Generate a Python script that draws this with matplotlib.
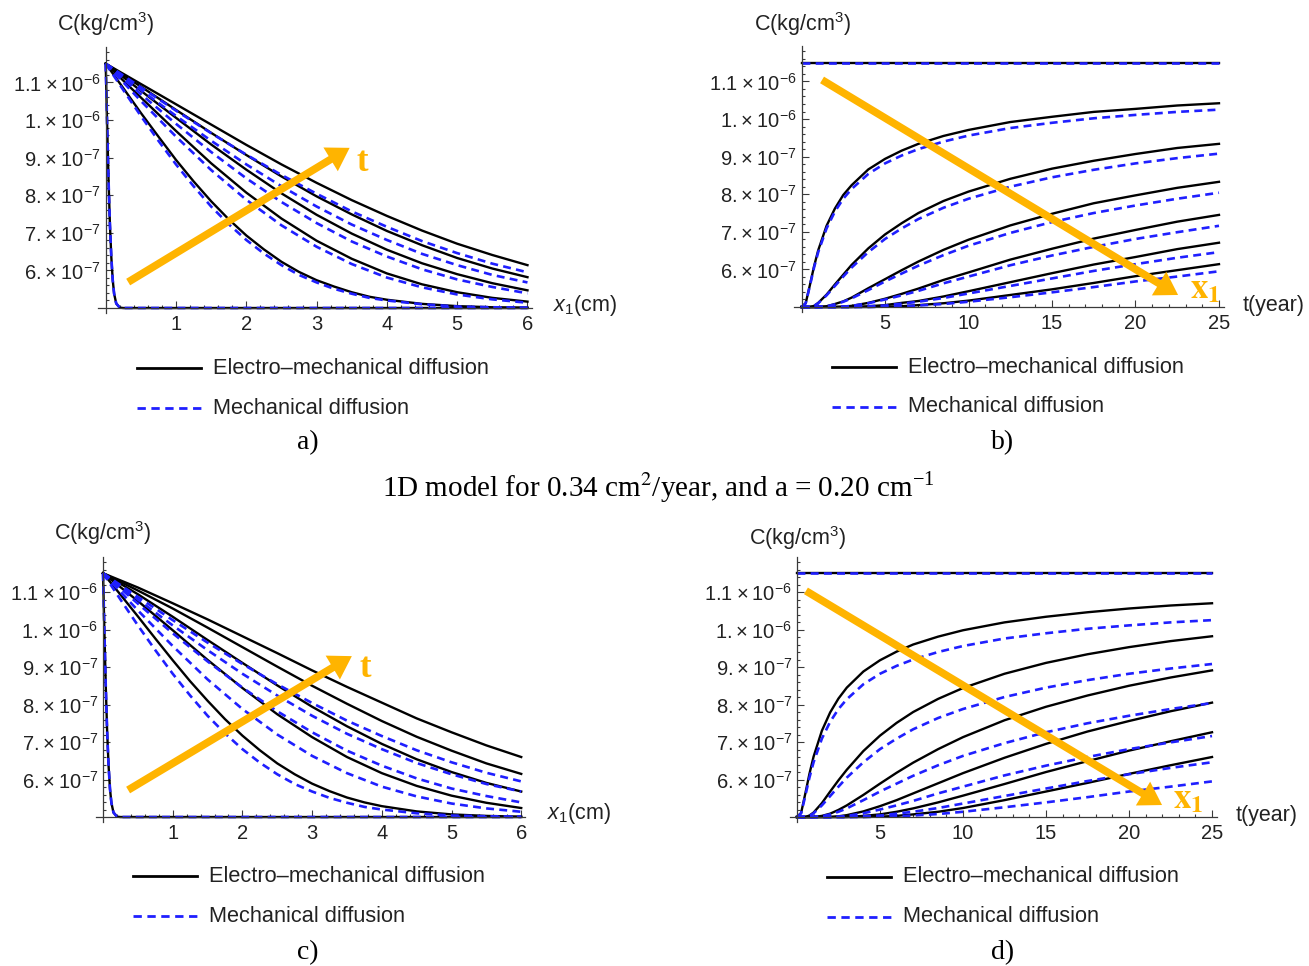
import matplotlib
matplotlib.use('Agg')
import matplotlib.pyplot as plt
from matplotlib.lines import Line2D

plt.rcParams['font.family'] = ['Liberation Sans', 'DejaVu Sans']
plt.rcParams['mathtext.fontset'] = 'custom'
plt.rcParams['mathtext.rm'] = 'Liberation Sans'
plt.rcParams['mathtext.it'] = 'Liberation Sans:italic'
plt.rcParams['mathtext.bf'] = 'Liberation Sans:bold'

# concentrations in units of 1e-7 kg/cm^3
xs = [0, 0.5, 1, 1.5, 2, 2.5, 3, 3.5, 4, 4.5, 5, 5.5, 6]
xsFine = [0, 0.25, 0.5, 0.75, 1, 1.25, 1.5, 1.75, 2, 2.25, 2.5, 2.75, 3, 3.25, 3.5, 3.75, 4,
          4.5, 5, 5.5, 6]
ts = [0, 0.25, 0.5, 0.75, 1, 1.5, 2, 2.5, 3, 4, 5, 6, 7, 8.5, 10, 12.5, 15, 17.5, 20, 22.5, 25]
xsEarly = [0, 0.02, 0.04, 0.06, 0.08, 0.1, 0.12, 0.15, 0.2, 0.25, 6]
cEarly = [11.5, 9.93, 8.45, 7.24, 6.36, 5.75, 5.38, 5.12, 5.01, 5.0, 5.0]
cSurface = 11.5

# profiles C(x) for t = 5 (on xsFine), 10, 15, 20, 25 years - mechanical diffusion
mech5 = [11.5, 10.80, 10.11, 9.45, 8.82, 8.24, 7.70, 7.23, 6.81, 6.45, 6.14, 5.88, 5.68, 5.51,
         5.38, 5.27, 5.20, 5.10, 5.04, 5.02, 5.01]
mech10 = [11.5, 10.51, 9.56, 8.67, 7.88, 7.20, 6.63, 6.17, 5.81, 5.55, 5.36, 5.23, 5.14]
mech15 = [11.5, 10.69, 9.90, 9.15, 8.45, 7.82, 7.26, 6.77, 6.37, 6.03, 5.76, 5.56, 5.39]
mech20 = [11.5, 10.80, 10.11, 9.45, 8.82, 8.24, 7.70, 7.22, 6.81, 6.44, 6.14, 5.88, 5.68]
mech25 = [11.5, 10.87, 10.25, 9.65, 9.08, 8.54, 8.04, 7.57, 7.16, 6.78, 6.46, 6.18, 5.95]

# electro-mechanical, upper pair of panels
elA5 = [11.5, 10.85, 10.19, 9.56, 8.94, 8.37, 7.84, 7.36, 6.93, 6.56, 6.23, 5.96, 5.74, 5.57,
        5.42, 5.30, 5.22, 5.11, 5.05, 5.02, 5.01]
elA10 = [11.5, 10.60, 9.71, 8.85, 8.07, 7.38, 6.79, 6.31, 5.92, 5.63, 5.42, 5.27, 5.17]
elA15 = [11.5, 10.78, 10.06, 9.35, 8.68, 8.05, 7.48, 6.98, 6.55, 6.19, 5.90, 5.66, 5.47]
elA20 = [11.5, 10.89, 10.27, 9.66, 9.07, 8.50, 7.97, 7.49, 7.05, 6.67, 6.33, 6.05, 5.82]
elA25 = [11.5, 10.96, 10.42, 9.88, 9.34, 8.82, 8.33, 7.87, 7.45, 7.06, 6.71, 6.41, 6.14]

# electro-mechanical, lower pair of panels
elC5 = [11.5, 10.93, 10.35, 9.76, 9.18, 8.62, 8.10, 7.61, 7.17, 6.78, 6.43, 6.14, 5.89, 5.69,
        5.52, 5.39, 5.29, 5.15, 5.07, 5.03, 5.01]
elC10 = [11.5, 10.76, 9.98, 9.19, 8.44, 7.74, 7.13, 6.60, 6.17, 5.83, 5.57, 5.38, 5.24]
elC15 = [11.5, 10.94, 10.34, 9.72, 9.11, 8.51, 7.94, 7.42, 6.95, 6.54, 6.20, 5.91, 5.68]
elC20 = [11.5, 11.04, 10.56, 10.05, 9.53, 9.01, 8.50, 8.02, 7.56, 7.14, 6.77, 6.43, 6.15]
elC25 = [11.5, 11.12, 10.70, 10.27, 9.82, 9.37, 8.91, 8.47, 8.05, 7.63, 7.26, 6.91, 6.60]

# histories C(t) at x1 = 1..6 cm - mechanical diffusion
mechX1 = [5, 5.10, 5.56, 6.05, 6.46, 7.09, 7.54, 7.88, 8.14, 8.54, 8.82, 9.03, 9.20, 9.40, 9.56,
          9.76, 9.90, 10.02, 10.11, 10.19, 10.25]
mechX2 = [5, 5, 5, 5.03, 5.10, 5.31, 5.56, 5.81, 6.05, 6.46, 6.81, 7.09, 7.34, 7.64, 7.88, 8.20,
          8.45, 8.65, 8.82, 8.96, 9.08]
mechX3 = [5, 5, 5, 5, 5, 5.02, 5.07, 5.14, 5.23, 5.45, 5.68, 5.89, 6.10, 6.38, 6.63, 6.97, 7.26,
          7.50, 7.70, 7.88, 8.04]
mechX4 = [5, 5, 5, 5, 5, 5, 5, 5.01, 5.03, 5.10, 5.20, 5.31, 5.43, 5.63, 5.81, 6.11, 6.37, 6.60,
          6.81, 6.99, 7.16]
mechX5 = [5, 5, 5, 5, 5, 5, 5, 5, 5, 5.02, 5.04, 5.09, 5.14, 5.24, 5.36, 5.56, 5.76, 5.96, 6.14,
          6.31, 6.46]
mechX6 = [5, 5, 5, 5, 5, 5, 5, 5, 5, 5, 5.01, 5.02, 5.04, 5.08, 5.14, 5.26, 5.39, 5.53, 5.68,
          5.81, 5.95]

elBX1 = [5, 5.10, 5.58, 6.08, 6.51, 7.16, 7.62, 7.98, 8.24, 8.66, 8.94, 9.16, 9.34, 9.55, 9.71,
         9.92, 10.06, 10.19, 10.27, 10.36, 10.42]
elBX2 = [5, 5, 5, 5.03, 5.11, 5.33, 5.60, 5.86, 6.12, 6.56, 6.93, 7.23, 7.50, 7.82, 8.07, 8.41,
         8.68, 8.89, 9.07, 9.23, 9.34]
elBX3 = [5, 5, 5, 5, 5, 5.02, 5.08, 5.15, 5.25, 5.50, 5.74, 5.98, 6.21, 6.52, 6.79, 7.17, 7.48,
         7.76, 7.97, 8.17, 8.33]
elBX4 = [5, 5, 5, 5, 5, 5, 5, 5.01, 5.03, 5.11, 5.22, 5.35, 5.49, 5.72, 5.92, 6.26, 6.55, 6.82,
         7.05, 7.27, 7.45]
elBX5 = [5, 5, 5, 5, 5, 5, 5, 5, 5, 5.02, 5.05, 5.11, 5.16, 5.28, 5.42, 5.66, 5.90, 6.13, 6.33,
         6.54, 6.71]
elBX6 = [5, 5, 5, 5, 5, 5, 5, 5, 5, 5, 5.01, 5.02, 5.05, 5.10, 5.17, 5.32, 5.47, 5.64, 5.82,
         5.98, 6.14]

elDX1 = [5, 5.11, 5.62, 6.15, 6.61, 7.30, 7.79, 8.16, 8.45, 8.88, 9.18, 9.41, 9.60, 9.81, 9.98,
         10.19, 10.34, 10.46, 10.56, 10.64, 10.70]
elDX2 = [5, 5, 5, 5.04, 5.12, 5.37, 5.68, 5.98, 6.26, 6.76, 7.17, 7.51, 7.80, 8.15, 8.44, 8.82,
         9.11, 9.34, 9.53, 9.69, 9.82]
elDX3 = [5, 5, 5, 5, 5, 5.03, 5.09, 5.19, 5.31, 5.59, 5.89, 6.18, 6.45, 6.81, 7.13, 7.58, 7.94,
         8.24, 8.50, 8.72, 8.91]
elDX4 = [5, 5, 5, 5, 5, 5, 5, 5.02, 5.05, 5.15, 5.29, 5.45, 5.63, 5.90, 6.17, 6.58, 6.95, 7.28,
         7.56, 7.82, 8.05]
elDX5 = [5, 5, 5, 5, 5, 5, 5, 5, 5, 5.03, 5.07, 5.14, 5.23, 5.39, 5.57, 5.88, 6.20, 6.49, 6.77,
         7.02, 7.26]
elDX6 = [5, 5, 5, 5, 5, 5, 5, 5, 5, 5, 5.01, 5.03, 5.07, 5.14, 5.24, 5.45, 5.68, 5.91, 6.15,
         6.38, 6.60]

yTicks = [6, 7, 8, 9, 10, 11]
yTickLabels = ['6.\u2009\u00d7\u200910$^{-7}$', '7.\u2009\u00d7\u200910$^{-7}$',
               '8.\u2009\u00d7\u200910$^{-7}$', '9.\u2009\u00d7\u200910$^{-7}$',
               '1.\u2009\u00d7\u200910$^{-6}$', '1.1\u2009\u00d7\u200910$^{-6}$']

mechProfiles = [mech10, mech15, mech20, mech25]
mechHistories = [mechX1, mechX2, mechX3, mechX4, mechX5, mechX6]

W, H = 1309, 966
ORANGE = '#FFB400'
BLUE = '#1f1fff'
AXIS = '#3a3a3a'
TEXT = '#222222'
LW = 1.7
BLW = 1.9
DASH = (3, 2)
YLIM = (4.87, 11.94)

fig = plt.figure(figsize=(W / 100, H / 100), dpi=100)


def box(left, top, right, bottom):
    return [left / W, 1 - bottom / H, (right - left) / W, (bottom - top) / H]


def setupAxes(ax, xlim, xMajor, xMinor):
    ax.set_xlim(*xlim)
    ax.set_ylim(*YLIM)
    ax.patch.set_alpha(0)
    ax.spines['top'].set_visible(False)
    ax.spines['right'].set_visible(False)
    ax.spines['left'].set_position(('data', 0))
    ax.spines['bottom'].set_position(('data', 5))
    for s in ['left', 'bottom']:
        ax.spines[s].set_color(AXIS)
        ax.spines[s].set_linewidth(0.9)
    ax.set_xticks(xMajor)
    ax.set_xticks(xMinor, minor=True)
    ax.set_yticks(yTicks, labels=yTickLabels)
    ax.set_yticks([5 + 0.2 * i for i in range(1, 35) if i % 5 != 0], minor=True)
    ax.tick_params(which='both', direction='in', color=AXIS, width=0.8,
                   labelsize=14.5, labelcolor=TEXT)
    ax.tick_params(which='major', length=5, pad=5)
    ax.tick_params(axis='y', which='major', pad=3.5)
    ax.tick_params(which='minor', length=2.5)


def drawProfiles(ax, first, electro):
    ax.plot(xsEarly, cEarly, color='black', lw=LW)
    ax.plot(xsFine, first, color='black', lw=LW)
    for c in electro:
        ax.plot(xs, c, color='black', lw=LW)
    ax.plot(xsEarly, cEarly, color=BLUE, lw=BLW, dashes=DASH)
    ax.plot(xsFine, mech5, color=BLUE, lw=BLW, dashes=DASH)
    for c in mechProfiles:
        ax.plot(xs, c, color=BLUE, lw=BLW, dashes=DASH)


def drawHistories(ax, electro):
    ax.plot(ts, [cSurface] * len(ts), color='black', lw=LW)
    for c in electro:
        ax.plot(ts, c, color='black', lw=LW)
    ax.plot(ts, [cSurface] * len(ts), color=BLUE, lw=BLW, dashes=DASH)
    for c in mechHistories:
        ax.plot(ts, c, color=BLUE, lw=BLW, dashes=DASH)


def drawArrow(ax, start, end):
    ax.annotate('', xy=end, xytext=start,
                arrowprops=dict(arrowstyle='simple,head_length=16,head_width=20,tail_width=5.5',
                                mutation_scale=1, color=ORANGE, lw=0, shrinkA=0, shrinkB=0))


def drawLegend(x0, y0):
    y1 = 1 - y0 / H
    y2 = 1 - (y0 + 40) / H
    fig.add_artist(Line2D([x0 / W, (x0 + 64) / W], [y1, y1], color='black', lw=2))
    fig.add_artist(Line2D([x0 / W, (x0 + 64) / W], [y2, y2], color=BLUE, lw=2, dashes=DASH))
    fig.text((x0 + 76) / W, y1, 'Electro\u2013mechanical diffusion', fontsize=15.7,
             va='center', color=TEXT)
    fig.text((x0 + 76) / W, y2, 'Mechanical diffusion', fontsize=15.7,
             va='center', color=TEXT)


def label(x, y, s, **kw):
    fig.text(x / W, 1 - y / H, s, **kw)


xMajorA = [1, 2, 3, 4, 5, 6]
xMinorA = [0.2 * i for i in range(1, 31) if i % 5 != 0]
xMajorB = [5, 10, 15, 20, 25]
xMinorB = [i for i in range(1, 26) if i % 5 != 0]

# a)
axA = fig.add_axes(box(98.3, 47.1, 531.7, 312.9))
setupAxes(axA, (-0.105, 6.06), xMajorA, xMinorA)
drawProfiles(axA, elA5, [elA10, elA15, elA20, elA25])
drawArrow(axA, (0.32, 5.69), (3.47, 9.26))
axA.text(3.65, 8.86, 't', color=ORANGE, fontsize=25, fontweight='bold',
         family='Liberation Serif', ha='center', va='center')

# b)
axB = fig.add_axes(box(794, 46.1, 1224, 311.9))
setupAxes(axB, (-0.45, 25.3), xMajorB, xMinorB)
drawHistories(axB, [elBX1, elBX2, elBX3, elBX4, elBX5, elBX6])
drawArrow(axB, (1.23, 11.04), (22.55, 5.32))
axB.text(24.2, 5.5, r'$\mathbf{x}_{\mathbf{1}}$', color=ORANGE, fontsize=25,
         math_fontfamily='stix', ha='center', va='center')

# c)
axC = fig.add_axes(box(95.7, 556.75, 525.4, 821.9))
setupAxes(axC, (-0.105, 6.06), xMajorA, xMinorA)
drawProfiles(axC, elC5, [elC10, elC15, elC20, elC25])
drawArrow(axC, (0.36, 5.72), (3.57, 9.29))
axC.text(3.76, 8.97, 't', color=ORANGE, fontsize=25, fontweight='bold',
         family='Liberation Serif', ha='center', va='center')

# d)
axD = fig.add_axes(box(789.5, 556.75, 1217, 821.9))
setupAxes(axD, (-0.45, 25.3), xMajorB, xMinorB)
drawHistories(axD, [elDX1, elDX2, elDX3, elDX4, elDX5, elDX6])
drawArrow(axD, (0.54, 11.03), (21.99, 5.32))
axD.text(23.55, 5.5, r'$\mathbf{x}_{\mathbf{1}}$', color=ORANGE, fontsize=25,
         math_fontfamily='stix', ha='center', va='center')

# axis titles
for x, y in [(105, 24), (802, 24), (102, 533), (797, 538)]:
    label(x, y, r'C(kg/cm$^3$)', fontsize=15.5, ha='center', va='center', color=TEXT)
label(553, 306, r'$x_1$(cm)', fontsize=15.5, va='center', color=TEXT)
label(547, 814, r'$x_1$(cm)', fontsize=15.5, va='center', color=TEXT)
label(1243, 305, 't(year)', fontsize=15.5, va='center', color=TEXT)
label(1236, 815, 't(year)', fontsize=15.5, va='center', color=TEXT)

drawLegend(137, 368)
drawLegend(832, 367)
drawLegend(133, 876)
drawLegend(827, 877)

serif = dict(family='Liberation Serif', ha='center', va='center')
label(308, 443, 'a)', fontsize=20, **serif)
label(1003, 443, 'b)', fontsize=20, **serif)
label(308, 953, 'c)', fontsize=20, **serif)
label(1003, 953, 'd)', fontsize=20, **serif)
label(658, 488, r'1D model for 0.34 cm$^{2}$/year, and a = 0.20 cm$^{\mathregular{-1}}$',
      fontsize=21, math_fontfamily='stix', **serif)

fig.savefig('out.png', dpi=100)
